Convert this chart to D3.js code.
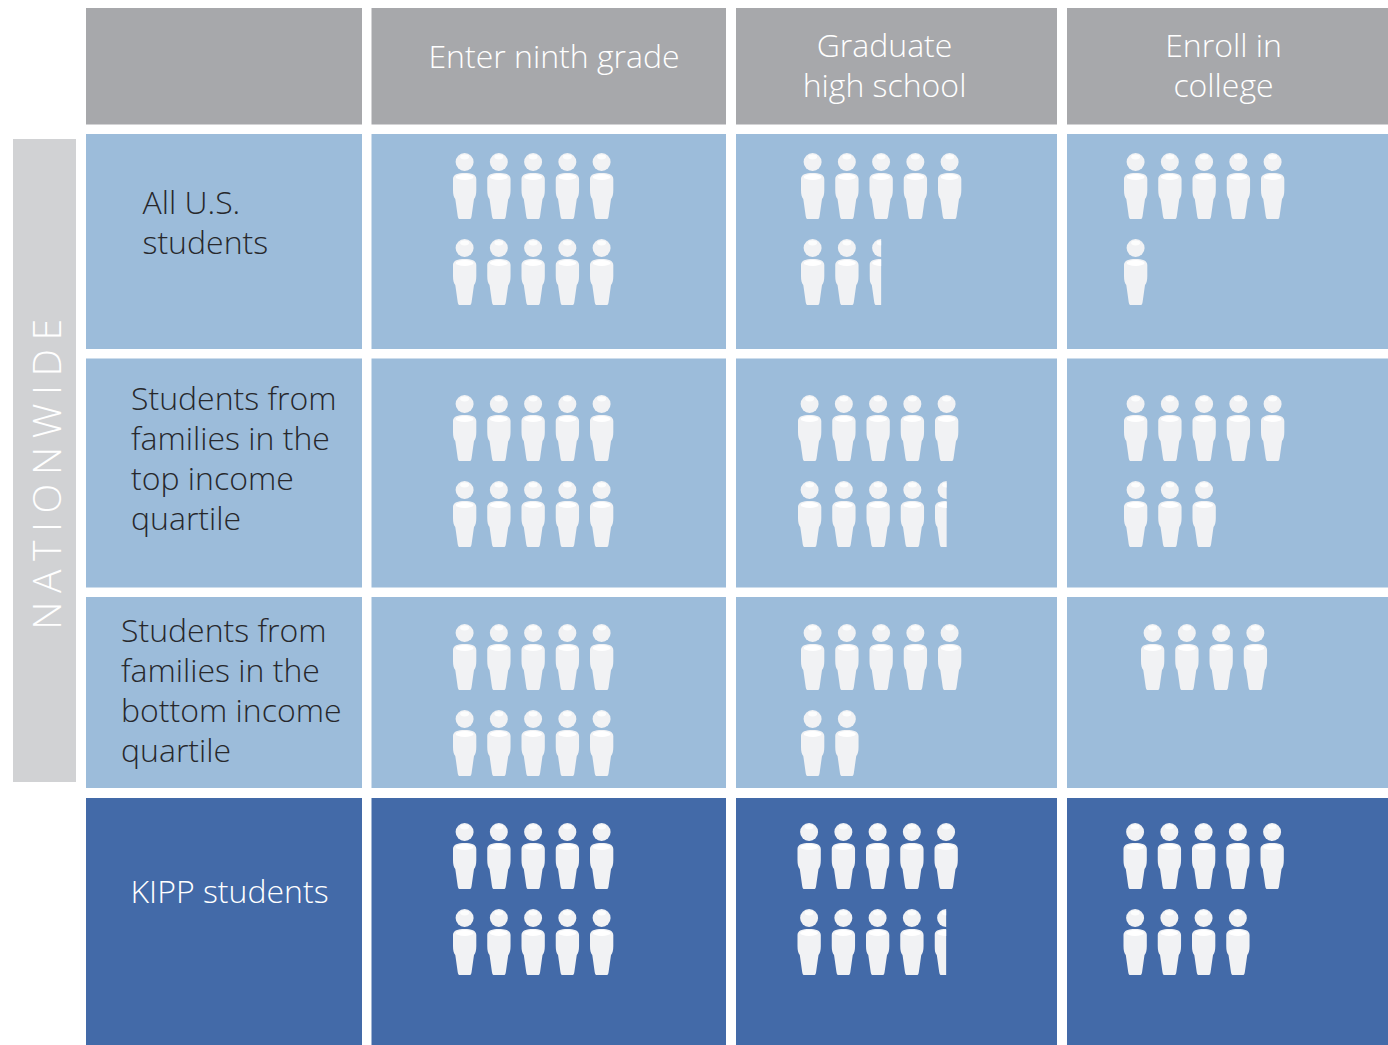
<!DOCTYPE html>
<html lang="en">
<head>
    <meta charset="UTF-8">
    <title>KIPP students by stage</title>
    <script src="https://d3js.org/d3.v7.min.js"></script>
    <style>
        body { margin: 0; background: #fff; }
        text { font-family: "Open Sans", sans-serif; font-weight: 300; }
    </style>
</head>
<body>
    <div id="chart"></div>

    <script>
        // Data: students out of 10 for each stage
        const stages = [["Enter ninth grade"], ["Graduate", "high school"], ["Enroll in", "college"]];
        const groups = [
            ["All U.S.", "students"],
            ["Students from", "families in the", "top income", "quartile"],
            ["Students from", "families in the", "bottom income", "quartile"],
            ["KIPP students"]
        ];
        const enterNinth = [10, 10, 10, 10];
        const graduateHs = [7.5, 9.5, 7, 9.5];
        const enrollCollege = [6, 8, 4, 9];
        const sideLabel = "NATIONWIDE";

        const seriesByStage = [enterNinth, graduateHs, enrollCollege];

        // Layout of the grid
        const colEdges = [[86, 362], [371.5, 726], [736, 1057], [1067, 1388]];
        const rowEdges = [[8, 124.5], [134, 349], [358.5, 587.5], [597, 788], [798, 1045]];
        const headerX = [554, 884.5, 1223.5];
        const iconLeft = [[453, 801, 1124], [453, 798, 1124], [453, 801, 1141], [453, 797.5, 1123.5]];
        const iconTop = [153, 395, 624, 823];
        const labelX = [142.5, 131, 121, 130.5];
        const labelY = [214, 410, 642, 903];
        const iconWidth = 23.3;

        const svg = d3.select("#chart").append("svg")
            .attr("width", 1388)
            .attr("height", 1045)
            .style("display", "block");
        const defs = svg.append("defs");

        const iconCol = d3.scaleLinear().domain([0, 4]).range([0, 137]);
        const iconRow = d3.scaleLinear().domain([0, 1]).range([0, 86]);

        // Header row
        colEdges.forEach(c => {
            svg.append("rect")
                .attr("x", c[0]).attr("y", rowEdges[0][0])
                .attr("width", c[1] - c[0]).attr("height", rowEdges[0][1] - rowEdges[0][0])
                .attr("fill", "#a7a8ab");
        });

        stages.forEach((lines, i) => {
            const startY = lines.length == 1 ? 68 : 57;
            lines.forEach((line, k) => {
                svg.append("text")
                    .attr("x", headerX[i])
                    .attr("y", startY + k * 40)
                    .attr("text-anchor", "middle")
                    .attr("font-size", 32)
                    .attr("fill", "#ffffff")
                    .text(line);
            });
        });

        // Side band
        svg.append("rect")
            .attr("x", 13).attr("y", 139)
            .attr("width", 63).attr("height", 643)
            .attr("fill", "#d1d2d4");
        svg.append("text")
            .attr("transform", "translate(61,470) rotate(-90)")
            .attr("text-anchor", "middle")
            .attr("font-size", 39)
            .attr("letter-spacing", 8.6)
            .attr("fill", "#ffffff")
            .style("font-weight", 300)
            .text(sideLabel);

        // Draw one person at x,y; cut to the fraction if it is partial
        function person(g, x, y, frac, id) {
            const p = g.append("g").attr("transform", `translate(${x},${y})`);
            if (frac < 1) {
                defs.append("clipPath").attr("id", id)
                    .append("rect")
                    .attr("x", 0).attr("y", -2)
                    .attr("width", iconWidth * frac).attr("height", 72);
                p.attr("clip-path", `url(#${id})`);
            }
            p.append("circle")
                .attr("cx", 11.6).attr("cy", 9).attr("r", 9)
                .attr("fill", "#f1f2f4");
            p.append("ellipse")
                .attr("cx", 11.6).attr("cy", 4).attr("rx", 4.5).attr("ry", 2.4)
                .attr("fill", "#ffffff").attr("opacity", 0.8);
            p.append("path")
                .attr("d", "M0,26 C0,21.5 5,20 11.6,20 C18.3,20 23.3,21.5 23.3,26 L23.3,37 C23.3,41 22.6,44.5 21,46 L18.6,63 C18.3,65.5 17.5,66 16.5,66 L6.8,66 C5.8,66 5,65.5 4.7,63 L2.3,46 C0.7,44.5 0,41 0,37 Z")
                .attr("fill", "#f1f2f4");
            p.append("ellipse")
                .attr("cx", 11.6).attr("cy", 24).attr("rx", 9).attr("ry", 3)
                .attr("fill", "#ffffff");
        }

        // Body rows
        groups.forEach((lines, r) => {
            const rowE = rowEdges[r + 1];
            const isKipp = r == groups.length - 1;
            const fill = isKipp ? "#436aa8" : "#9cbcda";
            colEdges.forEach(c => {
                svg.append("rect")
                    .attr("x", c[0]).attr("y", rowE[0])
                    .attr("width", c[1] - c[0]).attr("height", rowE[1] - rowE[0])
                    .attr("fill", fill);
            });

            lines.forEach((line, k) => {
                svg.append("text")
                    .attr("x", labelX[r])
                    .attr("y", labelY[r] + k * 40)
                    .attr("font-size", 32)
                    .attr("fill", isKipp ? "#ffffff" : "#27282c")
                    .text(line);
            });

            seriesByStage.forEach((series, s) => {
                const v = series[r];
                const g = svg.append("g");
                d3.range(Math.ceil(v)).forEach(i => {
                    const frac = Math.min(1, v - i);
                    const x = iconLeft[r][s] + iconCol(i % 5);
                    const y = iconTop[r] + iconRow(Math.floor(i / 5));
                    person(g, x, y, frac, `cut-${r}-${s}-${i}`);
                });
            });
        });
    </script>
</body>
</html>
